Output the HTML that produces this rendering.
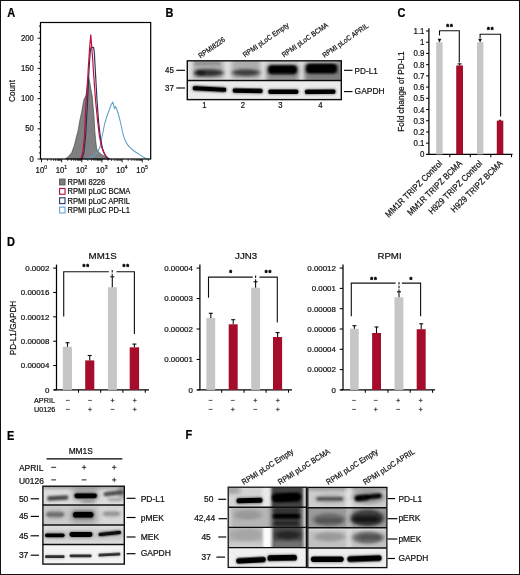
<!DOCTYPE html>
<html><head><meta charset="utf-8"><title>Figure</title>
<style>html,body{margin:0;padding:0;background:#fff;}body{width:520px;height:575px;overflow:hidden;font-family:"Liberation Sans", sans-serif;}svg{display:block;}text{font-family:"Liberation Sans", sans-serif;stroke:#111;stroke-width:0.22px;}</style>
</head><body>
<svg width="520" height="575" viewBox="0 0 520 575">
<defs>
<filter id="b0" x="-20%" y="-100%" width="140%" height="300%"><feGaussianBlur stdDeviation="0.6 0.5"/></filter>
<filter id="b1" x="-20%" y="-100%" width="140%" height="300%"><feGaussianBlur stdDeviation="1.2 0.9"/></filter>
<filter id="b2" x="-20%" y="-100%" width="140%" height="300%"><feGaussianBlur stdDeviation="2 1.6"/></filter>
<filter id="b3" x="-30%" y="-100%" width="160%" height="300%"><feGaussianBlur stdDeviation="3 2.5"/></filter>
<filter id="bt" x="0" y="0" width="520" height="575" filterUnits="userSpaceOnUse"><feGaussianBlur stdDeviation="0.4"/></filter>
</defs>
<rect x="0" y="0" width="520" height="575" fill="#fff"/>
<g filter="url(#bt)">
<g id="panelA">
<text transform="translate(7.2 17.0) scale(0.9 1)" font-size="12.2" text-anchor="start" font-weight="bold" fill="#000">A</text>
<path d="M65.2,159.0 L68.5,156.5 L71.8,152.5 L74.5,145 L76.4,137 L78,131 L80,119.6 L81.5,113 L83.4,102.3 L84.2,98.8 L86,95.4 L87.2,86 L88.6,77 L89.8,83 L91,90 L92.2,96 L93.2,108 L93.8,114 L94.8,131 L95.6,140 L96.6,148.7 L98.5,152 L101.5,154.5 L105,156.5 L110.2,159.0 Z" fill="#808080" stroke="#4a4a4a" stroke-width="0.7"/>
<path d="M86,159.0 L92,157 L97,153 L100,147 L102,137 L104.6,124 L107,116 L109.3,110 L111,105 L112.8,102 L113.6,105 L114.5,108.6 L115.4,106.5 L116.3,108 L118,113 L119.9,120 L121.5,127 L123.4,135.6 L125.5,141 L128,145.5 L131,148.3 L134,151 L137.5,153.2 L141,155.6 L145,158 L147.5,159.0" fill="none" stroke="#5f9fca" stroke-width="1.05" stroke-linejoin="round"/>
<path d="M82,159.0 L84,152 L85.7,135 L87.4,105 L89,70 L90.3,51 L91.2,47 L93.6,47.6 L94.3,52 L95.3,70 L97,100 L98.6,122 L100.6,139 L102.6,149 L105,155 L108.5,159.0" fill="none" stroke="#25305f" stroke-width="1.15" stroke-linejoin="round"/>
<path d="M80.8,159.0 L82.8,152 L84.4,137 L86,102 L87.3,85 L88.5,65 L89.7,47 L90.8,34.8 L91.8,48 L92.6,58 L93.7,75 L95.5,100 L97.5,120 L99.4,136 L101.6,147 L104,153 L107.6,159.0" fill="none" stroke="#c20d38" stroke-width="1.2" stroke-linejoin="round"/>
<rect x="40.5" y="22.5" width="110.2" height="136.5" fill="none" stroke="#000" stroke-width="1.2"/>
<line x1="37.5" y1="159.00" x2="40.5" y2="159.00" stroke="#000" stroke-width="0.9"/>
<line x1="38.9" y1="152.96" x2="40.5" y2="152.96" stroke="#000" stroke-width="0.9"/>
<line x1="38.9" y1="146.92" x2="40.5" y2="146.92" stroke="#000" stroke-width="0.9"/>
<line x1="38.9" y1="140.88" x2="40.5" y2="140.88" stroke="#000" stroke-width="0.9"/>
<line x1="38.9" y1="134.84" x2="40.5" y2="134.84" stroke="#000" stroke-width="0.9"/>
<line x1="37.5" y1="128.80" x2="40.5" y2="128.80" stroke="#000" stroke-width="0.9"/>
<line x1="38.9" y1="122.76" x2="40.5" y2="122.76" stroke="#000" stroke-width="0.9"/>
<line x1="38.9" y1="116.72" x2="40.5" y2="116.72" stroke="#000" stroke-width="0.9"/>
<line x1="38.9" y1="110.68" x2="40.5" y2="110.68" stroke="#000" stroke-width="0.9"/>
<line x1="38.9" y1="104.64" x2="40.5" y2="104.64" stroke="#000" stroke-width="0.9"/>
<line x1="37.5" y1="98.60" x2="40.5" y2="98.60" stroke="#000" stroke-width="0.9"/>
<line x1="38.9" y1="92.56" x2="40.5" y2="92.56" stroke="#000" stroke-width="0.9"/>
<line x1="38.9" y1="86.52" x2="40.5" y2="86.52" stroke="#000" stroke-width="0.9"/>
<line x1="38.9" y1="80.48" x2="40.5" y2="80.48" stroke="#000" stroke-width="0.9"/>
<line x1="38.9" y1="74.44" x2="40.5" y2="74.44" stroke="#000" stroke-width="0.9"/>
<line x1="37.5" y1="68.40" x2="40.5" y2="68.40" stroke="#000" stroke-width="0.9"/>
<line x1="38.9" y1="62.36" x2="40.5" y2="62.36" stroke="#000" stroke-width="0.9"/>
<line x1="38.9" y1="56.32" x2="40.5" y2="56.32" stroke="#000" stroke-width="0.9"/>
<line x1="38.9" y1="50.28" x2="40.5" y2="50.28" stroke="#000" stroke-width="0.9"/>
<line x1="38.9" y1="44.24" x2="40.5" y2="44.24" stroke="#000" stroke-width="0.9"/>
<line x1="37.5" y1="38.20" x2="40.5" y2="38.20" stroke="#000" stroke-width="0.9"/>
<line x1="38.9" y1="32.16" x2="40.5" y2="32.16" stroke="#000" stroke-width="0.9"/>
<line x1="38.9" y1="26.12" x2="40.5" y2="26.12" stroke="#000" stroke-width="0.9"/>
<text transform="translate(33.9 161.6) scale(0.91 1)" font-size="8.5" text-anchor="end" font-weight="normal" fill="#111">0</text>
<text transform="translate(33.9 131.4) scale(0.91 1)" font-size="8.5" text-anchor="end" font-weight="normal" fill="#111">50</text>
<text transform="translate(33.9 101.19999999999999) scale(0.91 1)" font-size="8.5" text-anchor="end" font-weight="normal" fill="#111">100</text>
<text transform="translate(33.9 71.0) scale(0.91 1)" font-size="8.5" text-anchor="end" font-weight="normal" fill="#111">150</text>
<text transform="translate(33.9 40.800000000000004) scale(0.91 1)" font-size="8.5" text-anchor="end" font-weight="normal" fill="#111">200</text>
<text transform="translate(15.3 91) rotate(-90) scale(0.91 1)" font-size="9" text-anchor="middle" font-weight="normal" fill="#111">Count</text>
<line x1="41.50" y1="159.0" x2="41.50" y2="162.3" stroke="#000" stroke-width="0.9"/>
<line x1="47.57" y1="159.0" x2="47.57" y2="160.9" stroke="#000" stroke-width="0.75"/>
<line x1="51.11" y1="159.0" x2="51.11" y2="160.9" stroke="#000" stroke-width="0.75"/>
<line x1="53.63" y1="159.0" x2="53.63" y2="160.9" stroke="#000" stroke-width="0.75"/>
<line x1="55.58" y1="159.0" x2="55.58" y2="160.9" stroke="#000" stroke-width="0.75"/>
<line x1="57.18" y1="159.0" x2="57.18" y2="160.9" stroke="#000" stroke-width="0.75"/>
<line x1="58.53" y1="159.0" x2="58.53" y2="160.9" stroke="#000" stroke-width="0.75"/>
<line x1="59.70" y1="159.0" x2="59.70" y2="160.9" stroke="#000" stroke-width="0.75"/>
<line x1="60.73" y1="159.0" x2="60.73" y2="160.9" stroke="#000" stroke-width="0.75"/>
<text transform="translate(35.60 172.8) scale(0.91 1)" font-size="8.5" fill="#111">10<tspan dy="-3.4" font-size="5.6">0</tspan></text>
<line x1="61.65" y1="159.0" x2="61.65" y2="162.3" stroke="#000" stroke-width="0.9"/>
<line x1="67.72" y1="159.0" x2="67.72" y2="160.9" stroke="#000" stroke-width="0.75"/>
<line x1="71.26" y1="159.0" x2="71.26" y2="160.9" stroke="#000" stroke-width="0.75"/>
<line x1="73.78" y1="159.0" x2="73.78" y2="160.9" stroke="#000" stroke-width="0.75"/>
<line x1="75.73" y1="159.0" x2="75.73" y2="160.9" stroke="#000" stroke-width="0.75"/>
<line x1="77.33" y1="159.0" x2="77.33" y2="160.9" stroke="#000" stroke-width="0.75"/>
<line x1="78.68" y1="159.0" x2="78.68" y2="160.9" stroke="#000" stroke-width="0.75"/>
<line x1="79.85" y1="159.0" x2="79.85" y2="160.9" stroke="#000" stroke-width="0.75"/>
<line x1="80.88" y1="159.0" x2="80.88" y2="160.9" stroke="#000" stroke-width="0.75"/>
<text transform="translate(55.75 172.8) scale(0.91 1)" font-size="8.5" fill="#111">10<tspan dy="-3.4" font-size="5.6">1</tspan></text>
<line x1="81.80" y1="159.0" x2="81.80" y2="162.3" stroke="#000" stroke-width="0.9"/>
<line x1="87.87" y1="159.0" x2="87.87" y2="160.9" stroke="#000" stroke-width="0.75"/>
<line x1="91.41" y1="159.0" x2="91.41" y2="160.9" stroke="#000" stroke-width="0.75"/>
<line x1="93.93" y1="159.0" x2="93.93" y2="160.9" stroke="#000" stroke-width="0.75"/>
<line x1="95.88" y1="159.0" x2="95.88" y2="160.9" stroke="#000" stroke-width="0.75"/>
<line x1="97.48" y1="159.0" x2="97.48" y2="160.9" stroke="#000" stroke-width="0.75"/>
<line x1="98.83" y1="159.0" x2="98.83" y2="160.9" stroke="#000" stroke-width="0.75"/>
<line x1="100.00" y1="159.0" x2="100.00" y2="160.9" stroke="#000" stroke-width="0.75"/>
<line x1="101.03" y1="159.0" x2="101.03" y2="160.9" stroke="#000" stroke-width="0.75"/>
<text transform="translate(75.90 172.8) scale(0.91 1)" font-size="8.5" fill="#111">10<tspan dy="-3.4" font-size="5.6">2</tspan></text>
<line x1="101.95" y1="159.0" x2="101.95" y2="162.3" stroke="#000" stroke-width="0.9"/>
<line x1="108.02" y1="159.0" x2="108.02" y2="160.9" stroke="#000" stroke-width="0.75"/>
<line x1="111.56" y1="159.0" x2="111.56" y2="160.9" stroke="#000" stroke-width="0.75"/>
<line x1="114.08" y1="159.0" x2="114.08" y2="160.9" stroke="#000" stroke-width="0.75"/>
<line x1="116.03" y1="159.0" x2="116.03" y2="160.9" stroke="#000" stroke-width="0.75"/>
<line x1="117.63" y1="159.0" x2="117.63" y2="160.9" stroke="#000" stroke-width="0.75"/>
<line x1="118.98" y1="159.0" x2="118.98" y2="160.9" stroke="#000" stroke-width="0.75"/>
<line x1="120.15" y1="159.0" x2="120.15" y2="160.9" stroke="#000" stroke-width="0.75"/>
<line x1="121.18" y1="159.0" x2="121.18" y2="160.9" stroke="#000" stroke-width="0.75"/>
<text transform="translate(96.05 172.8) scale(0.91 1)" font-size="8.5" fill="#111">10<tspan dy="-3.4" font-size="5.6">3</tspan></text>
<line x1="122.10" y1="159.0" x2="122.10" y2="162.3" stroke="#000" stroke-width="0.9"/>
<line x1="128.17" y1="159.0" x2="128.17" y2="160.9" stroke="#000" stroke-width="0.75"/>
<line x1="131.71" y1="159.0" x2="131.71" y2="160.9" stroke="#000" stroke-width="0.75"/>
<line x1="134.23" y1="159.0" x2="134.23" y2="160.9" stroke="#000" stroke-width="0.75"/>
<line x1="136.18" y1="159.0" x2="136.18" y2="160.9" stroke="#000" stroke-width="0.75"/>
<line x1="137.78" y1="159.0" x2="137.78" y2="160.9" stroke="#000" stroke-width="0.75"/>
<line x1="139.13" y1="159.0" x2="139.13" y2="160.9" stroke="#000" stroke-width="0.75"/>
<line x1="140.30" y1="159.0" x2="140.30" y2="160.9" stroke="#000" stroke-width="0.75"/>
<line x1="141.33" y1="159.0" x2="141.33" y2="160.9" stroke="#000" stroke-width="0.75"/>
<text transform="translate(116.20 172.8) scale(0.91 1)" font-size="8.5" fill="#111">10<tspan dy="-3.4" font-size="5.6">4</tspan></text>
<line x1="142.25" y1="159.0" x2="142.25" y2="162.3" stroke="#000" stroke-width="0.9"/>
<line x1="148.32" y1="159.0" x2="148.32" y2="160.9" stroke="#000" stroke-width="0.75"/>
<text transform="translate(136.35 172.8) scale(0.91 1)" font-size="8.5" fill="#111">10<tspan dy="-3.4" font-size="5.6">5</tspan></text>
<rect x="59.6" y="179.10" width="5.4" height="5.8" fill="#7d7d7d" stroke="#5f5f5f" stroke-width="1.1"/>
<text transform="translate(67.5 184.9) scale(0.91 1)" font-size="8.3" text-anchor="start" font-weight="normal" fill="#111">RPMI 8226</text>
<rect x="59.6" y="188.45" width="5.4" height="5.8" fill="none" stroke="#b01038" stroke-width="1.1"/>
<text transform="translate(67.5 194.25) scale(0.91 1)" font-size="8.3" text-anchor="start" font-weight="normal" fill="#111">RPMI pLoC BCMA</text>
<rect x="59.6" y="197.80" width="5.4" height="5.8" fill="none" stroke="#27366b" stroke-width="1.1"/>
<text transform="translate(67.5 203.6) scale(0.91 1)" font-size="8.3" text-anchor="start" font-weight="normal" fill="#111">RPMI pLoC APRIL</text>
<rect x="59.6" y="207.15" width="5.4" height="5.8" fill="none" stroke="#62a6d4" stroke-width="1.1"/>
<text transform="translate(67.5 212.95000000000002) scale(0.91 1)" font-size="8.3" text-anchor="start" font-weight="normal" fill="#111">RPMI pLoC PD-L1</text>
</g>
<g id="panelB">
<text transform="translate(165.5 16.8) scale(0.9 1)" font-size="12.2" text-anchor="start" font-weight="bold" fill="#000">B</text>
<clipPath id="cB1"><rect x="187.3" y="60.8" width="154" height="19.6"/></clipPath>
<clipPath id="cB2"><rect x="187.3" y="80.4" width="154" height="19.2"/></clipPath>
<rect x="187.3" y="60.8" width="154" height="19.6" fill="#e2e2e2"/>
<rect x="187.3" y="80.4" width="154" height="19.2" fill="#ebebeb"/>
<g clip-path="url(#cB1)">
<rect x="193" y="58" width="30.5" height="21" fill="#9a9a9a" opacity="0.75" filter="url(#b2)"/>
<rect x="231.5" y="58" width="29" height="21" fill="#9a9a9a" opacity="0.75" filter="url(#b2)"/>
<rect x="194" y="62.3" width="26" height="2.4" fill="#666" opacity="0.5" filter="url(#b1)"/>
<rect x="266" y="58" width="33" height="24" fill="#bdbdbd" opacity="0.8" filter="url(#b2)"/>
<rect x="304" y="58" width="40" height="24" fill="#b5b5b5" opacity="0.8" filter="url(#b2)"/>
<rect x="267" y="72" width="31" height="9" fill="#777" opacity="0.7" filter="url(#b2)"/>
<rect x="305" y="71" width="36" height="10" fill="#6a6a6a" opacity="0.75" filter="url(#b2)"/>
<rect x="337" y="58" width="6" height="24" fill="#777" opacity="0.6" filter="url(#b2)"/>
<ellipse cx="209" cy="72.8" rx="14.5" ry="3.6" fill="#222" opacity="0.9" filter="url(#b2)"/>
<ellipse cx="200" cy="73" rx="5" ry="3" fill="#000" opacity="0.6" filter="url(#b2)"/>
<ellipse cx="246" cy="72.6" rx="14" ry="3.4" fill="#2a2a2a" opacity="0.85" filter="url(#b2)"/>
<rect x="267.8" y="65.30" width="29.60" height="8.6" rx="3.0" fill="#000" opacity="0.9" filter="url(#b2)"/>
<rect x="268.8" y="65.80" width="27.60" height="7.6" rx="3.0" fill="#000" opacity="1" filter="url(#b1)"/>
<rect x="305.6" y="63.80" width="31.80" height="9.4" rx="3.0" fill="#000" opacity="0.9" filter="url(#b2)"/>
<rect x="306.6" y="64.30" width="29.80" height="8.4" rx="3.0" fill="#000" opacity="1" filter="url(#b1)"/>
</g>
<g clip-path="url(#cB2)">
<rect x="192.60" y="86.80" width="33.80" height="4.4" rx="2.20" fill="#000" opacity="1" filter="url(#b0)" transform="rotate(3 209.5 89)"/>
<rect x="191.80" y="86.10" width="35.40" height="5.8" rx="2.90" fill="#000" opacity="0.4" filter="url(#b1)" transform="rotate(3 209.5 89)"/>
<rect x="232.60" y="88.60" width="30.20" height="4.4" rx="2.20" fill="#000" opacity="1" filter="url(#b0)" transform="rotate(1 247.70000000000002 90.8)"/>
<rect x="231.80" y="87.90" width="31.80" height="5.8" rx="2.90" fill="#000" opacity="0.4" filter="url(#b1)" transform="rotate(1 247.70000000000002 90.8)"/>
<rect x="268.20" y="89.50" width="30.30" height="4.4" rx="2.20" fill="#000" opacity="1" filter="url(#b0)"/>
<rect x="267.40" y="88.80" width="31.90" height="5.8" rx="2.90" fill="#000" opacity="0.4" filter="url(#b1)"/>
<rect x="304.80" y="89.50" width="30.80" height="4.4" rx="2.20" fill="#000" opacity="1" filter="url(#b0)" transform="rotate(-0.5 320.2 91.7)"/>
<rect x="304.00" y="88.80" width="32.40" height="5.8" rx="2.90" fill="#000" opacity="0.4" filter="url(#b1)" transform="rotate(-0.5 320.2 91.7)"/>
</g>
<rect x="187.3" y="60.8" width="154" height="38.8" fill="none" stroke="#111" stroke-width="1.4"/>
<line x1="187.3" y1="80.4" x2="341.3" y2="80.4" stroke="#111" stroke-width="1.5"/>
<text transform="translate(173.9 73.3) scale(0.91 1)" font-size="8.7" text-anchor="end" font-weight="normal" fill="#111">45</text>
<line x1="176.3" y1="70.3" x2="185" y2="70.3" stroke="#000" stroke-width="1.1"/>
<text transform="translate(173.9 91.0) scale(0.91 1)" font-size="8.7" text-anchor="end" font-weight="normal" fill="#111">37</text>
<line x1="176.3" y1="88" x2="185" y2="88" stroke="#000" stroke-width="1.1"/>
<line x1="344" y1="70.3" x2="352.5" y2="70.3" stroke="#000" stroke-width="1.1"/>
<text transform="translate(354.6 73.6) scale(0.91 1)" font-size="9" text-anchor="start" font-weight="normal" fill="#111">PD-L1</text>
<line x1="344" y1="91.6" x2="352.5" y2="91.6" stroke="#000" stroke-width="1.1"/>
<text transform="translate(354.6 94.4) scale(0.94 1)" font-size="9" text-anchor="start" font-weight="normal" fill="#111">GAPDH</text>
<text transform="translate(204.5 108.3) scale(0.91 1)" font-size="8.5" text-anchor="middle" font-weight="normal" fill="#111">1</text>
<text transform="translate(243 108.3) scale(0.91 1)" font-size="8.5" text-anchor="middle" font-weight="normal" fill="#111">2</text>
<text transform="translate(280.5 108.3) scale(0.91 1)" font-size="8.5" text-anchor="middle" font-weight="normal" fill="#111">3</text>
<text transform="translate(320.5 108.3) scale(0.91 1)" font-size="8.5" text-anchor="middle" font-weight="normal" fill="#111">4</text>
<text transform="translate(200.5 58.5) rotate(-35) scale(0.91 1)" font-size="7.2" text-anchor="start" font-weight="normal" fill="#111">RPMI8226</text>
<text transform="translate(245 57.5) rotate(-35) scale(0.91 1)" font-size="7.2" text-anchor="start" font-weight="normal" fill="#111">RPMI pLoC Empty</text>
<text transform="translate(284 57.5) rotate(-35) scale(0.91 1)" font-size="7.2" text-anchor="start" font-weight="normal" fill="#111">RPMI pLoC BCMA</text>
<text transform="translate(324.5 58) rotate(-35) scale(0.91 1)" font-size="7.2" text-anchor="start" font-weight="normal" fill="#111">RPMI pLoC APRIL</text>
</g>
<g id="panelC">
<text transform="translate(397.6 16.8) scale(0.9 1)" font-size="12.2" text-anchor="start" font-weight="bold" fill="#000">C</text>
<line x1="428.9" y1="28.2" x2="428.9" y2="154.4" stroke="#000" stroke-width="1.25"/>
<line x1="426.4" y1="154.4" x2="512.5" y2="154.4" stroke="#000" stroke-width="1.25"/>
<line x1="426.09999999999997" y1="154.40" x2="428.9" y2="154.40" stroke="#000" stroke-width="1.05"/>
<text transform="translate(424.5 157.4) scale(0.91 1)" font-size="8.7" text-anchor="end" font-weight="normal" fill="#111">0</text>
<line x1="426.09999999999997" y1="143.18" x2="428.9" y2="143.18" stroke="#000" stroke-width="1.05"/>
<text transform="translate(424.5 146.18) scale(0.91 1)" font-size="8.7" text-anchor="end" font-weight="normal" fill="#111">0.1</text>
<line x1="426.09999999999997" y1="131.96" x2="428.9" y2="131.96" stroke="#000" stroke-width="1.05"/>
<text transform="translate(424.5 134.96) scale(0.91 1)" font-size="8.7" text-anchor="end" font-weight="normal" fill="#111">0.2</text>
<line x1="426.09999999999997" y1="120.74" x2="428.9" y2="120.74" stroke="#000" stroke-width="1.05"/>
<text transform="translate(424.5 123.74000000000001) scale(0.91 1)" font-size="8.7" text-anchor="end" font-weight="normal" fill="#111">0.3</text>
<line x1="426.09999999999997" y1="109.52" x2="428.9" y2="109.52" stroke="#000" stroke-width="1.05"/>
<text transform="translate(424.5 112.52000000000001) scale(0.91 1)" font-size="8.7" text-anchor="end" font-weight="normal" fill="#111">0.4</text>
<line x1="426.09999999999997" y1="98.30" x2="428.9" y2="98.30" stroke="#000" stroke-width="1.05"/>
<text transform="translate(424.5 101.30000000000001) scale(0.91 1)" font-size="8.7" text-anchor="end" font-weight="normal" fill="#111">0.5</text>
<line x1="426.09999999999997" y1="87.08" x2="428.9" y2="87.08" stroke="#000" stroke-width="1.05"/>
<text transform="translate(424.5 90.08) scale(0.91 1)" font-size="8.7" text-anchor="end" font-weight="normal" fill="#111">0.6</text>
<line x1="426.09999999999997" y1="75.86" x2="428.9" y2="75.86" stroke="#000" stroke-width="1.05"/>
<text transform="translate(424.5 78.86) scale(0.91 1)" font-size="8.7" text-anchor="end" font-weight="normal" fill="#111">0.7</text>
<line x1="426.09999999999997" y1="64.64" x2="428.9" y2="64.64" stroke="#000" stroke-width="1.05"/>
<text transform="translate(424.5 67.64) scale(0.91 1)" font-size="8.7" text-anchor="end" font-weight="normal" fill="#111">0.8</text>
<line x1="426.09999999999997" y1="53.42" x2="428.9" y2="53.42" stroke="#000" stroke-width="1.05"/>
<text transform="translate(424.5 56.42) scale(0.91 1)" font-size="8.7" text-anchor="end" font-weight="normal" fill="#111">0.9</text>
<line x1="426.09999999999997" y1="42.20" x2="428.9" y2="42.20" stroke="#000" stroke-width="1.05"/>
<text transform="translate(424.5 45.2) scale(0.91 1)" font-size="8.7" text-anchor="end" font-weight="normal" fill="#111">1</text>
<line x1="426.09999999999997" y1="30.98" x2="428.9" y2="30.98" stroke="#000" stroke-width="1.05"/>
<text transform="translate(424.5 33.980000000000004) scale(0.91 1)" font-size="8.7" text-anchor="end" font-weight="normal" fill="#111">1.1</text>
<line x1="449.8" y1="154.4" x2="449.8" y2="157.20000000000002" stroke="#000" stroke-width="1.05"/>
<line x1="470.3" y1="154.4" x2="470.3" y2="157.20000000000002" stroke="#000" stroke-width="1.05"/>
<line x1="490.8" y1="154.4" x2="490.8" y2="157.20000000000002" stroke="#000" stroke-width="1.05"/>
<line x1="511.5" y1="154.4" x2="511.5" y2="157.20000000000002" stroke="#000" stroke-width="1.05"/>
<rect x="436.2" y="42.2" width="6.40" height="112.20" fill="#c6c6c9"/>
<rect x="456.2" y="65.5" width="6.80" height="88.90" fill="#a50d2c"/>
<rect x="477" y="42.2" width="6.40" height="112.20" fill="#c6c6c9"/>
<rect x="496.8" y="120.6" width="6.50" height="33.80" fill="#a50d2c"/>
<line x1="459.6" y1="63.6" x2="459.6" y2="65.5" stroke="#111" stroke-width="1.1"/>
<line x1="457.6" y1="63.9" x2="461.6" y2="63.9" stroke="#111" stroke-width="1.1"/>
<line x1="500" y1="120.0" x2="500" y2="120.8" stroke="#111" stroke-width="1.1"/>
<line x1="499.2" y1="120.3" x2="500.8" y2="120.3" stroke="#111" stroke-width="1.1"/>
<path d="M439.5,35.5 L439.5,30.8 L459.3,30.8 L459.3,62.5" fill="none" stroke="#111" stroke-width="1.1"/>
<path d="M437.6,38.8 L441.4,38.8 L439.5,42.4 Z" fill="#111"/>
<path d="M480.1,38 L480.1,34.2 L500.6,34.2 L500.6,116.5" fill="none" stroke="#111" stroke-width="1.1"/>
<path d="M478.2,38.8 L482,38.8 L480.1,42.4 Z" fill="#111"/>
<text transform="translate(447.65 29.40)" font-size="7.2" text-anchor="middle" font-weight="bold" fill="#000" style="stroke:#000;stroke-width:0.5px">*</text><text transform="translate(451.35 29.40)" font-size="7.2" text-anchor="middle" font-weight="bold" fill="#000" style="stroke:#000;stroke-width:0.5px">*</text>
<text transform="translate(488.45 32.40)" font-size="7.2" text-anchor="middle" font-weight="bold" fill="#000" style="stroke:#000;stroke-width:0.5px">*</text><text transform="translate(492.15 32.40)" font-size="7.2" text-anchor="middle" font-weight="bold" fill="#000" style="stroke:#000;stroke-width:0.5px">*</text>
<text transform="translate(404.2 91.6) rotate(-90) scale(0.91 1)" font-size="9.1" text-anchor="middle" font-weight="normal" fill="#111">Fold change of PD-L1</text>
<text transform="translate(442.8 164) rotate(-45) scale(0.91 1)" font-size="8.75" text-anchor="end" font-weight="normal" fill="#111">MM1R TRIPZ Control</text>
<text transform="translate(462.8 164) rotate(-45) scale(0.91 1)" font-size="8.75" text-anchor="end" font-weight="normal" fill="#111">MM1R TRIPZ BCMA</text>
<text transform="translate(482.8 164) rotate(-45) scale(0.91 1)" font-size="8.75" text-anchor="end" font-weight="normal" fill="#111">H929 TRIPZ Control</text>
<text transform="translate(503.3 164) rotate(-45) scale(0.91 1)" font-size="8.75" text-anchor="end" font-weight="normal" fill="#111">H929 TRIPZ BCMA</text>
</g>
<g id="panelD">
<text transform="translate(7.0 245.7) scale(0.9 1)" font-size="12.2" text-anchor="start" font-weight="bold" fill="#000">D</text>
<line x1="56.5" y1="264.6" x2="56.5" y2="389.9" stroke="#000" stroke-width="1.25"/>
<line x1="54.0" y1="389.9" x2="149" y2="389.9" stroke="#000" stroke-width="1.25"/>
<line x1="53.2" y1="389.90" x2="56.5" y2="389.90" stroke="#000" stroke-width="1.05"/>
<text transform="translate(49.4 392.75)" font-size="7.9" text-anchor="end" font-weight="normal" fill="#111">0</text>
<line x1="53.2" y1="365.54" x2="56.5" y2="365.54" stroke="#000" stroke-width="1.05"/>
<text transform="translate(49.4 368.39)" font-size="7.9" text-anchor="end" font-weight="normal" fill="#111">0.00004</text>
<line x1="53.2" y1="341.18" x2="56.5" y2="341.18" stroke="#000" stroke-width="1.05"/>
<text transform="translate(49.4 344.03)" font-size="7.9" text-anchor="end" font-weight="normal" fill="#111">0.00008</text>
<line x1="53.2" y1="316.82" x2="56.5" y2="316.82" stroke="#000" stroke-width="1.05"/>
<text transform="translate(49.4 319.67)" font-size="7.9" text-anchor="end" font-weight="normal" fill="#111">0.00012</text>
<line x1="53.2" y1="292.46" x2="56.5" y2="292.46" stroke="#000" stroke-width="1.05"/>
<text transform="translate(49.4 295.31)" font-size="7.9" text-anchor="end" font-weight="normal" fill="#111">0.00016</text>
<line x1="53.2" y1="268.10" x2="56.5" y2="268.10" stroke="#000" stroke-width="1.05"/>
<text transform="translate(49.4 270.95)" font-size="7.9" text-anchor="end" font-weight="normal" fill="#111">0.0002</text>
<line x1="78.5" y1="389.9" x2="78.5" y2="392.7" stroke="#000" stroke-width="1.05"/>
<line x1="100.7" y1="389.9" x2="100.7" y2="392.7" stroke="#000" stroke-width="1.05"/>
<line x1="122.9" y1="389.9" x2="122.9" y2="392.7" stroke="#000" stroke-width="1.05"/>
<line x1="145.3" y1="389.9" x2="145.3" y2="392.7" stroke="#000" stroke-width="1.05"/>
<rect x="62.8" y="346.8" width="9.20" height="43.10" fill="#c6c6c9"/>
<rect x="85.2" y="360.4" width="9.10" height="29.50" fill="#a50d2c"/>
<rect x="107.9" y="287.2" width="9.00" height="102.70" fill="#c6c6c9"/>
<rect x="129.7" y="347.3" width="9.40" height="42.60" fill="#a50d2c"/>
<line x1="67.5" y1="342.4" x2="67.5" y2="346.8" stroke="#111" stroke-width="1.1"/>
<line x1="65.5" y1="342.7" x2="69.5" y2="342.7" stroke="#111" stroke-width="1.1"/>
<line x1="89.7" y1="355.2" x2="89.7" y2="360.4" stroke="#111" stroke-width="1.1"/>
<line x1="87.7" y1="355.5" x2="91.7" y2="355.5" stroke="#111" stroke-width="1.1"/>
<line x1="112.3" y1="276.5" x2="112.3" y2="287.2" stroke="#111" stroke-width="1.1"/>
<line x1="110.3" y1="276.8" x2="114.3" y2="276.8" stroke="#111" stroke-width="1.1"/>
<line x1="134.4" y1="343.8" x2="134.4" y2="347.3" stroke="#111" stroke-width="1.1"/>
<line x1="132.4" y1="344.1" x2="136.4" y2="344.1" stroke="#111" stroke-width="1.1"/>
<text transform="translate(102.6 259.2)" font-size="9.7" text-anchor="middle" font-weight="normal" fill="#111">MM1S</text>
<path d="M63.7,316.5 L63.7,271.8 L108.8,271.8" fill="none" stroke="#111" stroke-width="1.1"/>
<path d="M112.2,270 L112.2,277" fill="none" stroke="#111" stroke-width="1.1" stroke-dasharray="2.4 1.4"/>
<path d="M116.5,271.8 L134.4,271.8 L134.4,334" fill="none" stroke="#111" stroke-width="1.1"/>
<text transform="translate(83.95 269.20)" font-size="7.2" text-anchor="middle" font-weight="bold" fill="#000" style="stroke:#000;stroke-width:0.5px">*</text><text transform="translate(87.65 269.20)" font-size="7.2" text-anchor="middle" font-weight="bold" fill="#000" style="stroke:#000;stroke-width:0.5px">*</text>
<text transform="translate(123.95 269.20)" font-size="7.2" text-anchor="middle" font-weight="bold" fill="#000" style="stroke:#000;stroke-width:0.5px">*</text><text transform="translate(127.65 269.20)" font-size="7.2" text-anchor="middle" font-weight="bold" fill="#000" style="stroke:#000;stroke-width:0.5px">*</text>
<line x1="65.89999999999999" y1="400.4" x2="69.7" y2="400.4" stroke="#3a3a3a" stroke-width="0.85"/>
<line x1="65.89999999999999" y1="409.4" x2="69.7" y2="409.4" stroke="#3a3a3a" stroke-width="0.85"/>
<line x1="88.1" y1="400.4" x2="91.9" y2="400.4" stroke="#3a3a3a" stroke-width="0.85"/>
<path d="M88.1,409.4 L91.9,409.4 M90,407.5 L90,411.29999999999995" stroke="#3a3a3a" stroke-width="0.85" fill="none"/>
<path d="M110.6,400.4 L114.4,400.4 M112.5,398.5 L112.5,402.29999999999995" stroke="#3a3a3a" stroke-width="0.85" fill="none"/>
<line x1="110.6" y1="409.4" x2="114.4" y2="409.4" stroke="#3a3a3a" stroke-width="0.85"/>
<path d="M132.79999999999998,400.4 L136.6,400.4 M134.7,398.5 L134.7,402.29999999999995" stroke="#3a3a3a" stroke-width="0.85" fill="none"/>
<path d="M132.79999999999998,409.4 L136.6,409.4 M134.7,407.5 L134.7,411.29999999999995" stroke="#3a3a3a" stroke-width="0.85" fill="none"/>
<text transform="translate(15.6 328) rotate(-90) scale(0.91 1)" font-size="9" text-anchor="middle" font-weight="normal" fill="#111">PD-L1/GAPDH</text>
<text transform="translate(34 402.6) scale(0.91 1)" font-size="8" text-anchor="start" font-weight="normal" fill="#111">APRIL</text>
<text transform="translate(34 411.9) scale(0.91 1)" font-size="8" text-anchor="start" font-weight="normal" fill="#111">U0126</text>
<line x1="199.9" y1="264.6" x2="199.9" y2="389.9" stroke="#000" stroke-width="1.25"/>
<line x1="197.4" y1="389.9" x2="292" y2="389.9" stroke="#000" stroke-width="1.25"/>
<line x1="196.6" y1="389.90" x2="199.9" y2="389.90" stroke="#000" stroke-width="1.05"/>
<text transform="translate(192.8 392.75)" font-size="7.9" text-anchor="end" font-weight="normal" fill="#111">0</text>
<line x1="196.6" y1="359.45" x2="199.9" y2="359.45" stroke="#000" stroke-width="1.05"/>
<text transform="translate(192.8 362.3)" font-size="7.9" text-anchor="end" font-weight="normal" fill="#111">0.00001</text>
<line x1="196.6" y1="329.00" x2="199.9" y2="329.00" stroke="#000" stroke-width="1.05"/>
<text transform="translate(192.8 331.85)" font-size="7.9" text-anchor="end" font-weight="normal" fill="#111">0.00002</text>
<line x1="196.6" y1="298.55" x2="199.9" y2="298.55" stroke="#000" stroke-width="1.05"/>
<text transform="translate(192.8 301.4)" font-size="7.9" text-anchor="end" font-weight="normal" fill="#111">0.00003</text>
<line x1="196.6" y1="268.10" x2="199.9" y2="268.10" stroke="#000" stroke-width="1.05"/>
<text transform="translate(192.8 270.95)" font-size="7.9" text-anchor="end" font-weight="normal" fill="#111">0.00004</text>
<line x1="221.7" y1="389.9" x2="221.7" y2="392.7" stroke="#000" stroke-width="1.05"/>
<line x1="244.1" y1="389.9" x2="244.1" y2="392.7" stroke="#000" stroke-width="1.05"/>
<line x1="266.1" y1="389.9" x2="266.1" y2="392.7" stroke="#000" stroke-width="1.05"/>
<line x1="288.5" y1="389.9" x2="288.5" y2="392.7" stroke="#000" stroke-width="1.05"/>
<rect x="206.4" y="318" width="8.80" height="71.90" fill="#c6c6c9"/>
<rect x="228.7" y="324.3" width="9.00" height="65.60" fill="#a50d2c"/>
<rect x="251.2" y="287.7" width="8.90" height="102.20" fill="#c6c6c9"/>
<rect x="273" y="337" width="9.10" height="52.90" fill="#a50d2c"/>
<line x1="210.8" y1="313" x2="210.8" y2="318" stroke="#111" stroke-width="1.1"/>
<line x1="208.8" y1="313.3" x2="212.8" y2="313.3" stroke="#111" stroke-width="1.1"/>
<line x1="233.2" y1="319.4" x2="233.2" y2="324.3" stroke="#111" stroke-width="1.1"/>
<line x1="231.2" y1="319.7" x2="235.2" y2="319.7" stroke="#111" stroke-width="1.1"/>
<line x1="255.6" y1="281.5" x2="255.6" y2="287.7" stroke="#111" stroke-width="1.1"/>
<line x1="253.6" y1="281.8" x2="257.6" y2="281.8" stroke="#111" stroke-width="1.1"/>
<line x1="277.6" y1="332.3" x2="277.6" y2="337" stroke="#111" stroke-width="1.1"/>
<line x1="275.6" y1="332.6" x2="279.6" y2="332.6" stroke="#111" stroke-width="1.1"/>
<text transform="translate(246.1 259.2)" font-size="9.7" text-anchor="middle" font-weight="normal" fill="#111">JJN3</text>
<path d="M208.5,297.8 L208.5,277.1 L252.7,277.1" fill="none" stroke="#111" stroke-width="1.1"/>
<path d="M255.6,275.5 L255.6,282" fill="none" stroke="#111" stroke-width="1.1" stroke-dasharray="2.4 1.4"/>
<path d="M259.4,277.1 L277.3,277.1 L277.3,322.4" fill="none" stroke="#111" stroke-width="1.1"/>
<text transform="translate(230.60 275.00)" font-size="7.2" text-anchor="middle" font-weight="bold" fill="#000" style="stroke:#000;stroke-width:0.5px">*</text>
<text transform="translate(266.15 275.00)" font-size="7.2" text-anchor="middle" font-weight="bold" fill="#000" style="stroke:#000;stroke-width:0.5px">*</text><text transform="translate(269.85 275.00)" font-size="7.2" text-anchor="middle" font-weight="bold" fill="#000" style="stroke:#000;stroke-width:0.5px">*</text>
<line x1="208.7" y1="400.4" x2="212.5" y2="400.4" stroke="#3a3a3a" stroke-width="0.85"/>
<line x1="208.7" y1="409.4" x2="212.5" y2="409.4" stroke="#3a3a3a" stroke-width="0.85"/>
<line x1="230.9" y1="400.4" x2="234.70000000000002" y2="400.4" stroke="#3a3a3a" stroke-width="0.85"/>
<path d="M230.9,409.4 L234.70000000000002,409.4 M232.8,407.5 L232.8,411.29999999999995" stroke="#3a3a3a" stroke-width="0.85" fill="none"/>
<path d="M253.4,400.4 L257.2,400.4 M255.3,398.5 L255.3,402.29999999999995" stroke="#3a3a3a" stroke-width="0.85" fill="none"/>
<line x1="253.4" y1="409.4" x2="257.2" y2="409.4" stroke="#3a3a3a" stroke-width="0.85"/>
<path d="M275.90000000000003,400.4 L279.7,400.4 M277.8,398.5 L277.8,402.29999999999995" stroke="#3a3a3a" stroke-width="0.85" fill="none"/>
<path d="M275.90000000000003,409.4 L279.7,409.4 M277.8,407.5 L277.8,411.29999999999995" stroke="#3a3a3a" stroke-width="0.85" fill="none"/>
<line x1="343" y1="264.6" x2="343" y2="389.9" stroke="#000" stroke-width="1.25"/>
<line x1="340.5" y1="389.9" x2="435" y2="389.9" stroke="#000" stroke-width="1.25"/>
<line x1="339.7" y1="389.90" x2="343" y2="389.90" stroke="#000" stroke-width="1.05"/>
<text transform="translate(335.9 392.75)" font-size="7.9" text-anchor="end" font-weight="normal" fill="#111">0</text>
<line x1="339.7" y1="369.60" x2="343" y2="369.60" stroke="#000" stroke-width="1.05"/>
<text transform="translate(335.9 372.45)" font-size="7.9" text-anchor="end" font-weight="normal" fill="#111">0.00002</text>
<line x1="339.7" y1="349.30" x2="343" y2="349.30" stroke="#000" stroke-width="1.05"/>
<text transform="translate(335.9 352.15)" font-size="7.9" text-anchor="end" font-weight="normal" fill="#111">0.00004</text>
<line x1="339.7" y1="329.00" x2="343" y2="329.00" stroke="#000" stroke-width="1.05"/>
<text transform="translate(335.9 331.85)" font-size="7.9" text-anchor="end" font-weight="normal" fill="#111">0.00006</text>
<line x1="339.7" y1="308.70" x2="343" y2="308.70" stroke="#000" stroke-width="1.05"/>
<text transform="translate(335.9 311.55)" font-size="7.9" text-anchor="end" font-weight="normal" fill="#111">0.00008</text>
<line x1="339.7" y1="288.40" x2="343" y2="288.40" stroke="#000" stroke-width="1.05"/>
<text transform="translate(335.9 291.25)" font-size="7.9" text-anchor="end" font-weight="normal" fill="#111">0.0001</text>
<line x1="339.7" y1="268.10" x2="343" y2="268.10" stroke="#000" stroke-width="1.05"/>
<text transform="translate(335.9 270.95)" font-size="7.9" text-anchor="end" font-weight="normal" fill="#111">0.00012</text>
<line x1="365.3" y1="389.9" x2="365.3" y2="392.7" stroke="#000" stroke-width="1.05"/>
<line x1="387.9" y1="389.9" x2="387.9" y2="392.7" stroke="#000" stroke-width="1.05"/>
<line x1="410.2" y1="389.9" x2="410.2" y2="392.7" stroke="#000" stroke-width="1.05"/>
<line x1="432.6" y1="389.9" x2="432.6" y2="392.7" stroke="#000" stroke-width="1.05"/>
<rect x="350.1" y="328.7" width="8.60" height="61.20" fill="#c6c6c9"/>
<rect x="372.1" y="333" width="8.90" height="56.90" fill="#a50d2c"/>
<rect x="394.5" y="297.3" width="8.90" height="92.60" fill="#c6c6c9"/>
<rect x="416.7" y="329.2" width="9.00" height="60.70" fill="#a50d2c"/>
<line x1="354.4" y1="325.4" x2="354.4" y2="328.7" stroke="#111" stroke-width="1.1"/>
<line x1="352.4" y1="325.7" x2="356.4" y2="325.7" stroke="#111" stroke-width="1.1"/>
<line x1="376.5" y1="326.7" x2="376.5" y2="333" stroke="#111" stroke-width="1.1"/>
<line x1="374.5" y1="327.0" x2="378.5" y2="327.0" stroke="#111" stroke-width="1.1"/>
<line x1="399" y1="291.5" x2="399" y2="297.3" stroke="#111" stroke-width="1.1"/>
<line x1="397" y1="291.8" x2="401" y2="291.8" stroke="#111" stroke-width="1.1"/>
<line x1="421.2" y1="323.5" x2="421.2" y2="329.2" stroke="#111" stroke-width="1.1"/>
<line x1="419.2" y1="323.8" x2="423.2" y2="323.8" stroke="#111" stroke-width="1.1"/>
<text transform="translate(389.5 259.2)" font-size="9.7" text-anchor="middle" font-weight="normal" fill="#111">RPMI</text>
<path d="M351.3,316.3 L351.3,283.1 L395.6,283.1" fill="none" stroke="#111" stroke-width="1.1"/>
<path d="M399,282 L399,291.5" fill="none" stroke="#111" stroke-width="1.1" stroke-dasharray="2.4 1.4"/>
<path d="M401.9,283.1 L420.6,283.1 L420.6,316.3" fill="none" stroke="#111" stroke-width="1.1"/>
<text transform="translate(371.65 281.60)" font-size="7.2" text-anchor="middle" font-weight="bold" fill="#000" style="stroke:#000;stroke-width:0.5px">*</text><text transform="translate(375.35 281.60)" font-size="7.2" text-anchor="middle" font-weight="bold" fill="#000" style="stroke:#000;stroke-width:0.5px">*</text>
<text transform="translate(411.00 281.60)" font-size="7.2" text-anchor="middle" font-weight="bold" fill="#000" style="stroke:#000;stroke-width:0.5px">*</text>
<line x1="352.1" y1="400.4" x2="355.9" y2="400.4" stroke="#3a3a3a" stroke-width="0.85"/>
<line x1="352.1" y1="409.4" x2="355.9" y2="409.4" stroke="#3a3a3a" stroke-width="0.85"/>
<line x1="373.8" y1="400.4" x2="377.59999999999997" y2="400.4" stroke="#3a3a3a" stroke-width="0.85"/>
<path d="M373.8,409.4 L377.59999999999997,409.4 M375.7,407.5 L375.7,411.29999999999995" stroke="#3a3a3a" stroke-width="0.85" fill="none"/>
<path d="M396.3,400.4 L400.09999999999997,400.4 M398.2,398.5 L398.2,402.29999999999995" stroke="#3a3a3a" stroke-width="0.85" fill="none"/>
<line x1="396.3" y1="409.4" x2="400.09999999999997" y2="409.4" stroke="#3a3a3a" stroke-width="0.85"/>
<path d="M418.8,400.4 L422.59999999999997,400.4 M420.7,398.5 L420.7,402.29999999999995" stroke="#3a3a3a" stroke-width="0.85" fill="none"/>
<path d="M418.8,409.4 L422.59999999999997,409.4 M420.7,407.5 L420.7,411.29999999999995" stroke="#3a3a3a" stroke-width="0.85" fill="none"/>
</g>
<g id="panelE">
<text transform="translate(7.0 440.2) scale(0.9 1)" font-size="12.2" text-anchor="start" font-weight="bold" fill="#000">E</text>
<text transform="translate(80.7 454.0) scale(0.95 1)" font-size="8.8" text-anchor="middle" font-weight="normal" fill="#111">MM1S</text>
<line x1="46.5" y1="458.8" x2="122.3" y2="458.8" stroke="#000" stroke-width="1.15"/>
<text transform="translate(18.9 471.3) scale(0.955 1)" font-size="8.9" text-anchor="start" font-weight="normal" fill="#111">APRIL</text>
<text transform="translate(18.9 484.0) scale(0.955 1)" font-size="8.9" text-anchor="start" font-weight="normal" fill="#111">U0126</text>
<line x1="51.300000000000004" y1="467.3" x2="56.1" y2="467.3" stroke="#222" stroke-width="1"/>
<line x1="51.300000000000004" y1="479.9" x2="56.1" y2="479.9" stroke="#222" stroke-width="1"/>
<path d="M81.89999999999999,467.3 L86.3,467.3 M84.1,465.1 L84.1,469.5" stroke="#222" stroke-width="0.9" fill="none"/>
<line x1="81.69999999999999" y1="479.9" x2="86.5" y2="479.9" stroke="#222" stroke-width="1"/>
<path d="M112.0,467.3 L116.4,467.3 M114.2,465.1 L114.2,469.5" stroke="#222" stroke-width="0.9" fill="none"/>
<path d="M112.0,479.9 L116.4,479.9 M114.2,477.7 L114.2,482.09999999999997" stroke="#222" stroke-width="0.9" fill="none"/>
<clipPath id="cE0"><rect x="42.9" y="486.2" width="81.4" height="18.70"/></clipPath>
<rect x="42.9" y="486.2" width="81.4" height="18.70" fill="#dcdcdc"/>
<clipPath id="cE1"><rect x="42.9" y="504.9" width="81.4" height="20.00"/></clipPath>
<rect x="42.9" y="504.9" width="81.4" height="20.00" fill="#cbcbcb"/>
<clipPath id="cE2"><rect x="42.9" y="524.9" width="81.4" height="19.70"/></clipPath>
<rect x="42.9" y="524.9" width="81.4" height="19.70" fill="#dedede"/>
<clipPath id="cE3"><rect x="42.9" y="544.6" width="81.4" height="19.50"/></clipPath>
<rect x="42.9" y="544.6" width="81.4" height="19.50" fill="#f4f4f4"/>
<g clip-path="url(#cE0)">
<rect x="42.9" y="483.5" width="81.4" height="5.5" fill="#777" opacity="0.55" filter="url(#b2)"/>
<rect x="119" y="484" width="8" height="14" fill="#666" opacity="0.5" filter="url(#b2)"/>
<rect x="73" y="485.00" width="25.00" height="16" rx="3.0" fill="#888" opacity="0.55" filter="url(#b3)"/>
<rect x="47.50" y="496.20" width="20.60" height="3.6" rx="1.80" fill="#1c1c1c" opacity="0.95" filter="url(#b1)" transform="rotate(-3 57.8 498)"/>
<rect x="46.80" y="495.40" width="22.00" height="5.2" rx="2.60" fill="#666" opacity="0.4" filter="url(#b1)" transform="rotate(-3 57.8 498)"/>
<rect x="74.50" y="493.40" width="22.40" height="4.8" rx="2.40" fill="#000" opacity="1" filter="url(#b0)"/>
<rect x="73.70" y="492.70" width="24.00" height="6.2" rx="3.10" fill="#000" opacity="0.5" filter="url(#b1)"/>
<ellipse cx="88" cy="501.3" rx="8" ry="1.6" fill="#777" opacity="0.6" filter="url(#b1)"/>
<rect x="104.00" y="491.60" width="19.20" height="3.4" rx="1.70" fill="#2a2a2a" opacity="0.95" filter="url(#b1)" transform="rotate(-7 113.6 493.3)"/>
<rect x="103.20" y="491.00" width="20.80" height="4.6" rx="2.30" fill="#666" opacity="0.4" filter="url(#b1)" transform="rotate(-7 113.6 493.3)"/>
<ellipse cx="115" cy="499.5" rx="8" ry="2" fill="#888" opacity="0.55" filter="url(#b1)"/>
</g>
<g clip-path="url(#cE1)">
<rect x="98" y="505" width="30" height="20" fill="#e2e2e2" opacity="0.6" filter="url(#b3)"/>
<rect x="46.60" y="512.40" width="17.20" height="4.2" rx="2.10" fill="#444" opacity="0.8" filter="url(#b1)"/>
<ellipse cx="55.2" cy="514.5" rx="10" ry="4.5" fill="#777" opacity="0.45" filter="url(#b2)"/>
<rect x="71" y="509.50" width="25.00" height="13" rx="3.0" fill="#777" opacity="0.55" filter="url(#b3)"/>
<rect x="73.00" y="512.00" width="20.40" height="5.6" rx="2.80" fill="#000" opacity="1" filter="url(#b0)"/>
<rect x="72.20" y="511.30" width="22.00" height="7" rx="3.50" fill="#000" opacity="0.5" filter="url(#b1)"/>
<rect x="103.30" y="512.00" width="16.40" height="3.6" rx="1.80" fill="#777" opacity="0.75" filter="url(#b1)"/>
<ellipse cx="111.5" cy="514" rx="9.5" ry="4" fill="#999" opacity="0.4" filter="url(#b2)"/>
</g>
<g clip-path="url(#cE2)">
<rect x="44" y="530.50" width="80.00" height="9" rx="3.0" fill="#aaa" opacity="0.5" filter="url(#b3)"/>
<rect x="45.00" y="533.40" width="19.60" height="3.8" rx="1.90" fill="#000" opacity="1" filter="url(#b0)"/>
<rect x="44.40" y="532.80" width="20.80" height="5" rx="2.50" fill="#000" opacity="0.4" filter="url(#b1)"/>
<rect x="69.50" y="532.10" width="23.00" height="4.8" rx="2.40" fill="#000" opacity="1" filter="url(#b0)"/>
<rect x="69.00" y="531.50" width="24.00" height="6" rx="3.00" fill="#000" opacity="0.4" filter="url(#b1)"/>
<rect x="98.50" y="531.65" width="22.60" height="3.5" rx="1.75" fill="#0a0a0a" opacity="1" filter="url(#b0)" transform="rotate(-6 109.8 533.4)"/>
<rect x="98.00" y="531.05" width="23.60" height="4.7" rx="2.35" fill="#000" opacity="0.4" filter="url(#b1)" transform="rotate(-6 109.8 533.4)"/>
</g>
<g clip-path="url(#cE3)">
<rect x="45.00" y="555.30" width="19.60" height="2.8" rx="1.40" fill="#262626" opacity="1" filter="url(#b0)"/>
<rect x="44.50" y="554.70" width="20.60" height="4" rx="2.00" fill="#444" opacity="0.35" filter="url(#b1)"/>
<rect x="69.60" y="554.50" width="22.00" height="2.8" rx="1.40" fill="#262626" opacity="1" filter="url(#b0)"/>
<rect x="69.10" y="553.90" width="23.00" height="4" rx="2.00" fill="#444" opacity="0.35" filter="url(#b1)"/>
<rect x="98.40" y="553.30" width="22.00" height="2.8" rx="1.40" fill="#262626" opacity="1" filter="url(#b0)" transform="rotate(-3 109.4 554.7)"/>
<rect x="97.90" y="552.70" width="23.00" height="4" rx="2.00" fill="#444" opacity="0.35" filter="url(#b1)" transform="rotate(-3 109.4 554.7)"/>
</g>
<rect x="42.9" y="486.2" width="81.4" height="77.90" fill="none" stroke="#111" stroke-width="1.4"/>
<line x1="42.9" y1="504.9" x2="124.3" y2="504.9" stroke="#111" stroke-width="1.5"/>
<line x1="42.9" y1="524.9" x2="124.3" y2="524.9" stroke="#111" stroke-width="1.5"/>
<line x1="42.9" y1="544.6" x2="124.3" y2="544.6" stroke="#111" stroke-width="1.5"/>
<text transform="translate(18.9 501.8) scale(0.955 1)" font-size="8.9" text-anchor="start" font-weight="normal" fill="#111">50</text>
<line x1="30.7" y1="498.8" x2="39" y2="498.8" stroke="#000" stroke-width="1.15"/>
<text transform="translate(18.9 519.2) scale(0.955 1)" font-size="8.9" text-anchor="start" font-weight="normal" fill="#111">45</text>
<line x1="30.7" y1="516.4" x2="39" y2="516.4" stroke="#000" stroke-width="1.15"/>
<text transform="translate(18.9 538.8) scale(0.955 1)" font-size="8.9" text-anchor="start" font-weight="normal" fill="#111">45</text>
<line x1="30.7" y1="535.8" x2="39" y2="535.8" stroke="#000" stroke-width="1.15"/>
<text transform="translate(18.9 558.2) scale(0.955 1)" font-size="8.9" text-anchor="start" font-weight="normal" fill="#111">37</text>
<line x1="30.7" y1="555.2" x2="39" y2="555.2" stroke="#000" stroke-width="1.15"/>
<line x1="126.6" y1="498.3" x2="135.5" y2="498.3" stroke="#000" stroke-width="1.15"/>
<text transform="translate(140.7 502) scale(0.955 1)" font-size="8.9" text-anchor="start" font-weight="normal" fill="#111">PD-L1</text>
<line x1="126.6" y1="517.5" x2="135.5" y2="517.5" stroke="#000" stroke-width="1.15"/>
<text transform="translate(140.7 521.2) scale(0.955 1)" font-size="8.9" text-anchor="start" font-weight="normal" fill="#111">pMEK</text>
<line x1="126.6" y1="537" x2="135.5" y2="537" stroke="#000" stroke-width="1.15"/>
<text transform="translate(140.7 540) scale(0.955 1)" font-size="8.9" text-anchor="start" font-weight="normal" fill="#111">MEK</text>
<line x1="126.6" y1="553.7" x2="135.5" y2="553.7" stroke="#000" stroke-width="1.15"/>
<text transform="translate(140.7 555.7) scale(0.955 1)" font-size="8.9" text-anchor="start" font-weight="normal" fill="#111">GAPDH</text>
</g>
<g id="panelF">
<text transform="translate(185.4 438.9) scale(0.9 1)" font-size="12.2" text-anchor="start" font-weight="bold" fill="#000">F</text>
<text transform="translate(243.8 485) rotate(-32.5) scale(0.91 1)" font-size="7.9" text-anchor="start" font-weight="normal" fill="#111">RPMI pLoC Empty</text>
<text transform="translate(280 485) rotate(-32.5) scale(0.91 1)" font-size="7.9" text-anchor="start" font-weight="normal" fill="#111">RPMI pLoC BCMA</text>
<text transform="translate(328.3 485) rotate(-32.5) scale(0.91 1)" font-size="7.9" text-anchor="start" font-weight="normal" fill="#111">RPMI pLoC Empty</text>
<text transform="translate(365.2 485) rotate(-32.5) scale(0.91 1)" font-size="7.9" text-anchor="start" font-weight="normal" fill="#111">RPMI pLoC APRIL</text>
<clipPath id="cF0"><rect x="228.2" y="487.2" width="78.20" height="20.00"/></clipPath>
<rect x="228.2" y="487.2" width="78.20" height="20.00" fill="#d4d4d4"/>
<clipPath id="cG0"><rect x="307.8" y="487.4" width="79.10" height="20.30"/></clipPath>
<rect x="307.8" y="487.4" width="79.10" height="20.30" fill="#cdcdcd"/>
<clipPath id="cF1"><rect x="228.2" y="507.2" width="78.20" height="20.20"/></clipPath>
<rect x="228.2" y="507.2" width="78.20" height="20.20" fill="#b6b6b6"/>
<clipPath id="cG1"><rect x="307.8" y="507.7" width="79.10" height="20.10"/></clipPath>
<rect x="307.8" y="507.7" width="79.10" height="20.10" fill="#9a9a9a"/>
<clipPath id="cF2"><rect x="228.2" y="527.4" width="78.20" height="20.20"/></clipPath>
<rect x="228.2" y="527.4" width="78.20" height="20.20" fill="#b8b8b8"/>
<clipPath id="cG2"><rect x="307.8" y="527.8" width="79.10" height="20.20"/></clipPath>
<rect x="307.8" y="527.8" width="79.10" height="20.20" fill="#c2c2c2"/>
<clipPath id="cF3"><rect x="228.2" y="547.6" width="78.20" height="19.80"/></clipPath>
<rect x="228.2" y="547.6" width="78.20" height="19.80" fill="#f0f0f0"/>
<clipPath id="cG3"><rect x="307.8" y="548" width="79.10" height="19.60"/></clipPath>
<rect x="307.8" y="548" width="79.10" height="19.60" fill="#eeeeee"/>
<g clip-path="url(#cF0)">
<rect x="226" y="485" width="14" height="9" fill="#888" opacity="0.6" filter="url(#b2)"/>
<rect x="262" y="486" width="8" height="22" fill="#f0f0f0" opacity="0.8" filter="url(#b2)"/>
<rect x="271.5" y="484" width="31.5" height="26" fill="#3a3a3a" opacity="0.95" filter="url(#b1)"/>
<rect x="236.50" y="498.10" width="26.00" height="5.0" rx="2.50" fill="#000" opacity="1" filter="url(#b0)" transform="rotate(-1.5 249.5 500.6)"/>
<rect x="235.70" y="497.30" width="27.60" height="6.6" rx="3.30" fill="#000" opacity="0.45" filter="url(#b1)" transform="rotate(-1.5 249.5 500.6)"/>
<rect x="271.70" y="492.70" width="29.60" height="9.6" rx="4.80" fill="#000" opacity="1" filter="url(#b1)" transform="rotate(-2 286.5 497.5)"/>
</g>
<g clip-path="url(#cF1)">
<rect x="226" y="506" width="6" height="22" fill="#d0d0d0" opacity="0.7" filter="url(#b1)"/>
<ellipse cx="248" cy="515" rx="14" ry="5" fill="#888" opacity="0.6" filter="url(#b2)"/>
<rect x="271.5" y="505" width="30.5" height="24" fill="#3c3c3c" opacity="0.95" filter="url(#b2)"/>
<rect x="272.70" y="513.50" width="27.60" height="5.4" rx="2.70" fill="#000" opacity="0.95" filter="url(#b1)"/>
<rect x="273.50" y="509.30" width="25.00" height="2.6" rx="1.30" fill="#222" opacity="0.6" filter="url(#b1)"/>
<rect x="273.50" y="522.00" width="25.00" height="2.8" rx="1.40" fill="#111" opacity="0.7" filter="url(#b1)"/>
<rect x="303.5" y="506" width="4" height="22" fill="#ccc" opacity="0.8" filter="url(#b0)"/>
</g>
<g clip-path="url(#cF2)">
<ellipse cx="246" cy="535" rx="16" ry="6" fill="#9a9a9a" opacity="0.6" filter="url(#b2)"/>
<rect x="228" y="542" width="36" height="7" fill="#d4d4d4" opacity="0.7" filter="url(#b2)"/>
<rect x="263" y="525" width="8" height="24" fill="#fbfbfb" filter="url(#b1)"/>
<rect x="273" y="526" width="29.5" height="23" fill="#444" opacity="0.95" filter="url(#b1)"/>
<rect x="273" y="541" width="30" height="8" fill="#999" opacity="0.5" filter="url(#b2)"/>
<ellipse cx="288" cy="535" rx="13" ry="4" fill="#1a1a1a" opacity="0.8" filter="url(#b2)"/>
<rect x="304" y="526" width="4" height="23" fill="#d0d0d0" opacity="0.8" filter="url(#b0)"/>
</g>
<g clip-path="url(#cF3)">
<rect x="236.20" y="557.60" width="29.60" height="5.4" rx="2.70" fill="#000" opacity="1" filter="url(#b0)" transform="rotate(-3 251 560.3)"/>
<rect x="235.60" y="556.90" width="30.80" height="6.8" rx="3.40" fill="#000" opacity="0.4" filter="url(#b1)" transform="rotate(-3 251 560.3)"/>
<rect x="267.40" y="555.00" width="29.60" height="5.8" rx="2.90" fill="#000" opacity="1" filter="url(#b0)" transform="rotate(-1 282.2 557.9)"/>
<rect x="266.80" y="554.30" width="30.80" height="7.2" rx="3.60" fill="#000" opacity="0.4" filter="url(#b1)" transform="rotate(-1 282.2 557.9)"/>
</g>
<g clip-path="url(#cG0)">
<rect x="307.8" y="484" width="79.10" height="7" fill="#8a8a8a" opacity="0.6" filter="url(#b2)"/>
<rect x="346" y="486" width="6" height="23" fill="#ececec" opacity="0.8" filter="url(#b2)"/>
<ellipse cx="330" cy="499" rx="16" ry="5" fill="#999" opacity="0.5" filter="url(#b2)"/>
<rect x="316.40" y="497.10" width="26.80" height="3.6" rx="1.80" fill="#484848" opacity="0.9" filter="url(#b1)"/>
<ellipse cx="368.5" cy="497" rx="17" ry="7" fill="#777" opacity="0.55" filter="url(#b2)"/>
<rect x="354.90" y="494.50" width="26.80" height="5.0" rx="2.50" fill="#000" opacity="1" filter="url(#b1)" transform="rotate(-6 368.3 497)"/>
<rect x="355.00" y="495.20" width="14.00" height="6" rx="3.00" fill="#000" opacity="0.6" filter="url(#b1)" transform="rotate(-6 362 498.2)"/>
</g>
<g clip-path="url(#cG1)">
<rect x="346.5" y="506" width="5" height="24" fill="#c4c4c4" opacity="0.85" filter="url(#b2)"/>
<ellipse cx="329" cy="519.5" rx="16" ry="6.5" fill="#5a5a5a" opacity="0.7" filter="url(#b2)"/>
<rect x="316.00" y="518.50" width="26.00" height="4.2" rx="2.10" fill="#444" opacity="0.75" filter="url(#b2)"/>
<ellipse cx="367.5" cy="518" rx="16.5" ry="8.5" fill="#333" opacity="0.9" filter="url(#b2)"/>
<rect x="352.50" y="516.00" width="27.00" height="6.4" rx="3.20" fill="#111" opacity="0.85" filter="url(#b2)"/>
</g>
<g clip-path="url(#cG2)">
<rect x="307.8" y="526.5" width="79.10" height="4" fill="#e0e0e0" opacity="0.8" filter="url(#b1)"/>
<rect x="346.5" y="526" width="5" height="24" fill="#e2e2e2" opacity="0.85" filter="url(#b2)"/>
<ellipse cx="329.5" cy="536.8" rx="15.5" ry="4.6" fill="#8a8a8a" opacity="0.7" filter="url(#b2)"/>
<ellipse cx="368" cy="537.6" rx="15.5" ry="6.2" fill="#555" opacity="0.8" filter="url(#b2)"/>
<rect x="359.00" y="535.20" width="22.00" height="4.4" rx="2.20" fill="#3a3a3a" opacity="0.6" filter="url(#b2)"/>
</g>
<g clip-path="url(#cG3)">
<rect x="310.90" y="556.60" width="32.80" height="5.4" rx="2.70" fill="#000" opacity="1" filter="url(#b0)"/>
<rect x="310.30" y="555.90" width="34.00" height="6.8" rx="3.40" fill="#000" opacity="0.4" filter="url(#b1)"/>
<rect x="347.30" y="555.70" width="34.40" height="5.8" rx="2.90" fill="#000" opacity="1" filter="url(#b0)" transform="rotate(-2 364.5 558.6)"/>
<rect x="346.70" y="555.00" width="35.60" height="7.2" rx="3.60" fill="#000" opacity="0.4" filter="url(#b1)" transform="rotate(-2 364.5 558.6)"/>
</g>
<rect x="228.2" y="487.2" width="78.20" height="80.20" fill="none" stroke="#111" stroke-width="1.3"/>
<rect x="307.8" y="487.4" width="79.10" height="80.20" fill="none" stroke="#111" stroke-width="1.3"/>
<line x1="228.2" y1="507.2" x2="306.4" y2="507.2" stroke="#111" stroke-width="1.4"/>
<line x1="307.8" y1="507.7" x2="386.9" y2="507.7" stroke="#111" stroke-width="1.4"/>
<line x1="228.2" y1="527.4" x2="306.4" y2="527.4" stroke="#111" stroke-width="1.4"/>
<line x1="307.8" y1="527.8" x2="386.9" y2="527.8" stroke="#111" stroke-width="1.4"/>
<line x1="228.2" y1="547.6" x2="306.4" y2="547.6" stroke="#111" stroke-width="1.4"/>
<line x1="307.8" y1="548" x2="386.9" y2="548" stroke="#111" stroke-width="1.4"/>
<text transform="translate(204 501.7) scale(0.955 1)" font-size="8.8" text-anchor="start" font-weight="normal" fill="#111">50</text>
<line x1="218.3" y1="499.3" x2="226.2" y2="499.3" stroke="#000" stroke-width="1.15"/>
<text transform="translate(194.2 521.2) scale(0.955 1)" font-size="8.8" text-anchor="start" font-weight="normal" fill="#111">42,44</text>
<line x1="218.6" y1="518.7" x2="227" y2="518.7" stroke="#000" stroke-width="1.15"/>
<text transform="translate(201.4 539.7) scale(0.955 1)" font-size="8.8" text-anchor="start" font-weight="normal" fill="#111">45</text>
<line x1="218.3" y1="537" x2="226.2" y2="537" stroke="#000" stroke-width="1.15"/>
<text transform="translate(201.6 559.6) scale(0.955 1)" font-size="8.8" text-anchor="start" font-weight="normal" fill="#111">37</text>
<line x1="216.4" y1="557.1" x2="225" y2="557.1" stroke="#000" stroke-width="1.15"/>
<line x1="387.6" y1="498.6" x2="395" y2="498.6" stroke="#000" stroke-width="1.15"/>
<text transform="translate(398.4 501.6) scale(0.955 1)" font-size="8.8" text-anchor="start" font-weight="normal" fill="#111">PD-L1</text>
<line x1="387.6" y1="518.7" x2="397.4" y2="518.7" stroke="#000" stroke-width="1.15"/>
<text transform="translate(398.4 521.2) scale(0.955 1)" font-size="8.8" text-anchor="start" font-weight="normal" fill="#111">pERK</text>
<line x1="387.6" y1="539" x2="397.4" y2="539" stroke="#000" stroke-width="1.15"/>
<text transform="translate(398.4 541.7) scale(0.955 1)" font-size="8.8" text-anchor="start" font-weight="normal" fill="#111">pMEK</text>
<line x1="387.6" y1="558.5" x2="395" y2="558.5" stroke="#000" stroke-width="1.15"/>
<text transform="translate(398.4 561.2) scale(0.955 1)" font-size="8.8" text-anchor="start" font-weight="normal" fill="#111">GAPDH</text>
</g>
</g>
<rect x="0.5" y="0.5" width="519" height="574" fill="none" stroke="#111" stroke-width="1"/>
</svg>
</body></html>
